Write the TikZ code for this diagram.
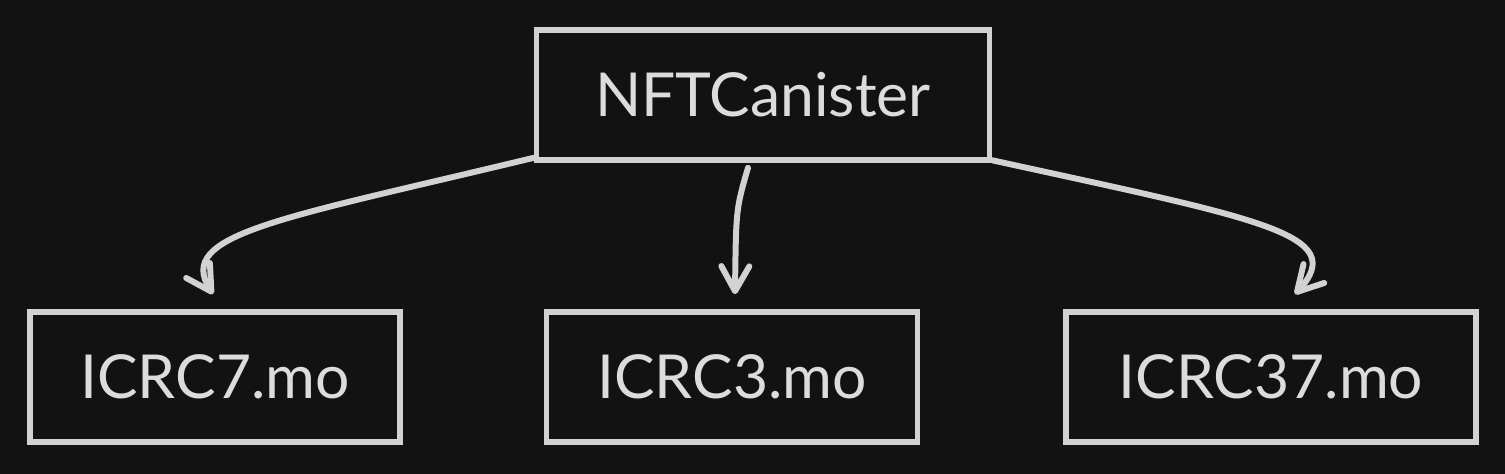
\documentclass[tikz,border=0pt]{standalone}
\usepackage{fontspec}
\setmainfont{Lato}
\usepackage{tikz}
\usetikzlibrary{positioning,calc}
\usetikzlibrary{arrows.meta}
\definecolor{NightBg}{RGB}{18,18,18}
\definecolor{ChalkLine}{RGB}{210,210,210}
\definecolor{ChalkText}{RGB}{220,220,220}
\tikzset{
  modbox/.style={draw=ChalkLine,line width=3.2pt,fill=NightBg,text=ChalkText,
    minimum height=2.6cm,inner sep=0pt,font=\fontsize{34.5}{40}\selectfont},
  link/.style={draw=ChalkLine,line width=3.4pt,line cap=round,
    -{Straight Barb[length=5mm,width=5.6mm,round]}},
}
\begin{document}
\begin{tikzpicture}
\fill[NightBg] (0,0) rectangle (30.1,9.48);
\useasboundingbox (0,0) rectangle (30.1,9.48);
\coordinate (pcan) at (15.26,7.58);
\coordinate (pseven) at (4.30,1.94);
\coordinate (pthree) at (14.64,1.94);
\coordinate (pthirty) at (25.42,1.94);
\node[modbox,minimum width=9.06cm] (canister) at (pcan) {NFTCanister};
\node[modbox,minimum width=7.4cm] (seven) at (pseven) {ICRC7.mo};
\node[modbox,minimum width=7.42cm] (three) at (pthree) {ICRC3.mo};
\node[modbox,minimum width=8.2cm] (thirty) at (pthirty) {ICRC37.mo};
\coordinate (tseven) at ($(seven.north)+(-0.04,0.3)$);
\coordinate (tthree) at ($(three.north)+(0.06,0.3)$);
\coordinate (tthirty) at ($(thirty.north)+(0.48,0.3)$);
\draw[link] ($(canister.south west)+(0,0.1)$) .. controls (5.6,5.1) and (3.5,4.8) .. (tseven);
\draw[link] ($(canister.south)+(-0.3,-0.1)$) .. controls (14.72,5.3) .. (tthree);
\draw[link] ($(canister.south east)+(0,0.05)$) .. controls (25.2,5.1) and (27.0,4.8) .. (tthirty);
\end{tikzpicture}
\end{document}
